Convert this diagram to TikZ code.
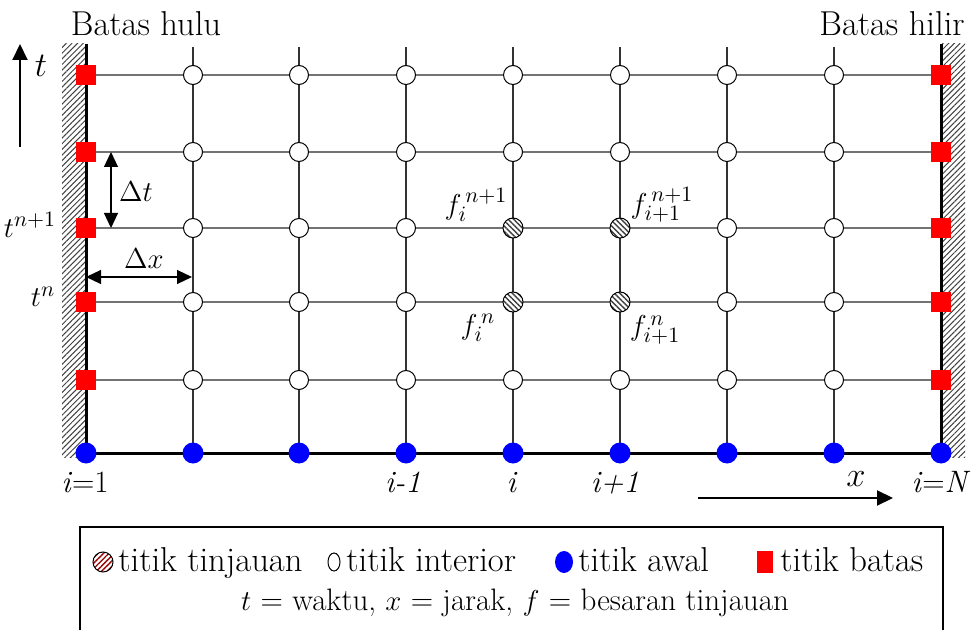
\documentclass[tikz,border=0pt]{standalone}
\usetikzlibrary{arrows.meta,patterns,patterns.meta,shapes.geometric}
\begin{document}
\begin{tikzpicture}[x=0.5pt,y=-0.5pt,
  txt/.style={font=\fontsize{15.5}{18}\selectfont, inner sep=0pt},
  bigtxt/.style={font=\fontsize{17.28}{20}\selectfont, inner sep=0pt},
  interior/.style={circle,draw,fill=white,minimum size=9.5pt,inner sep=0pt,line width=0.5pt},
  boundary/.style={rectangle,fill=red,minimum size=10pt,inner sep=0pt},
  initial/.style={circle,fill=blue,minimum size=10.5pt,inner sep=0pt},
  review/.style={circle,draw,line width=0.5pt,minimum size=10pt,inner sep=0pt,
    preaction={fill=white},pattern={Lines[angle=-45,distance=1.9pt,line width=0.7pt]},pattern color=black!75},
  gridh/.style={draw=black!55,line width=1pt},
  gridv/.style={draw=black!80,line width=0.7pt},
  wall/.style={line width=1.5pt},
  hatch/.style={pattern={Lines[angle=45,distance=2pt,line width=0.5pt]},pattern color=black!75},
  arr/.style={line width=1pt,-{Triangle[length=8pt,width=7.5pt]}},
  darr/.style={line width=0.6pt,{Triangle[length=7.5pt,width=7pt]}-{Triangle[length=7.5pt,width=7pt]}}
]
\useasboundingbox (0,0) rectangle (973,630);

% walls (hatching)
\fill[hatch] (62,44) rectangle (85,457);
\fill[hatch] (942,44) rectangle (965,457);

% grid coordinates
\foreach \x [count=\i] in {86,193,299,406,513,620,727,834,941} {
  \coordinate (top-\i) at (\x,47);
  \foreach \y [count=\jj] in {453,380,302,228,152,75} {
    \pgfmathtruncatemacro\j{\jj-1}
    \coordinate (g-\i-\j) at (\x,\y);
  }
}
\coordinate (wl) at (86,44);
\coordinate (wr) at (941,44);

% grid lines
\foreach \j in {1,...,5} { \draw[gridh] (g-1-\j) -- (g-9-\j); }
\foreach \i in {2,...,8} { \draw[gridv] (top-\i) -- (g-\i-0); }
\draw[wall] (wl) -- (g-1-0) -- (g-9-0) -- (wr);

% nodes
\foreach \i in {1,...,9} { \node[initial] (n-\i-0) at (g-\i-0) {}; }
\foreach \j in {1,...,5} {
  \node[boundary] (n-1-\j) at (g-1-\j) {};
  \node[boundary] (n-9-\j) at (g-9-\j) {};
}
\foreach \i in {2,...,8} {
  \foreach \j in {1,...,5} {
    \pgfmathtruncatemacro\isrev{((\i==5)||(\i==6))&&((\j==2)||(\j==3))}
    \ifnum\isrev=1
      \node[review] (n-\i-\j) at (g-\i-\j) {};
    \else
      \node[interior] (n-\i-\j) at (g-\i-\j) {};
    \fi
  }
}

% titles
\node[bigtxt,anchor=base] (hulu) at (146,36) {Batas hulu};
\node[bigtxt,anchor=base] (hilir) at (892,36) {Batas hilir};

% time axis
\coordinate (ta) at (20,147);
\coordinate (tb) at (20,44);
\draw[arr] (ta) -- (tb);
\node[bigtxt] (tlab) at (41,66) {$t$};
\node[txt] (tn1) at (30,225) {$t^{n+1}$};
\node[txt] (tn) at (43,297) {$t^{n}$};

% delta t
\coordinate (dta) at (111,152);
\coordinate (dtb) at (111,228);
\draw[darr] (dta) -- (dtb);
\node[txt] (dtlab) at (136,192) {$\Delta t$};

% delta x
\coordinate (dxa) at (86,277);
\coordinate (dxb) at (192,277);
\draw[darr] (dxa) -- (dxb);
\node[txt] (dxlab) at (144,259) {$\Delta x$};

% f labels
\node[txt] (f1) at (476,205) {$f_{i}^{\,n+1}$};
\node[txt] (f2) at (662,205) {$f_{i+1}^{\,n+1}$};
\node[txt] (f3) at (478,328) {$f_{i}^{\,n}$};
\node[txt] (f4) at (655,330) {$f_{i+1}^{\,n}$};

% bottom labels
\node[txt,anchor=base] (l1) at (85,492) {\textit{i}=1};
\node[txt,anchor=base] (l2) at (403,492) {\textit{i-1}};
\node[txt,anchor=base] (l3) at (512,492) {\textit{i}};
\node[txt,anchor=base] (l4) at (615,492) {\textit{i+1}};
\node[txt,anchor=base] (l5) at (941,492) {\textit{i}=\textit{N}};

% x axis
\coordinate (xa) at (698,498);
\coordinate (xb) at (893,498);
\draw[arr] (xa) -- (xb);
\node[bigtxt] (xlab) at (856,479) {$x$};

% legend box
\coordinate (bl) at (80,640);
\coordinate (tl) at (80,527);
\coordinate (tr) at (943,527);
\coordinate (br) at (943,640);
\draw[line width=1pt] (bl) -- (tl) -- (tr) -- (br);

\node[circle,draw,line width=0.5pt,minimum size=10pt,inner sep=0pt,
  preaction={fill=white},pattern={Lines[angle=45,distance=1.9pt,line width=0.7pt]},pattern color=red!60!black] (lg1) at (103,562) {};
\node[bigtxt,anchor=base west] (lt1) at (118,571) {titik tinjauan};
\node[ellipse,draw,line width=0.5pt,fill=white,minimum width=6pt,minimum height=9pt,inner sep=0pt] (lg2) at (334,562) {};
\node[bigtxt,anchor=base west] (lt2) at (346,571) {titik interior};
\node[ellipse,fill=blue,minimum width=9pt,minimum height=11pt,inner sep=0pt] (lg3) at (564,562) {};
\node[bigtxt,anchor=base west] (lt3) at (578,571) {titik awal};
\node[rectangle,fill=red,minimum width=8pt,minimum height=11pt,inner sep=0pt] (lg4) at (765,562) {};
\node[bigtxt,anchor=base west] (lt4) at (780,571) {titik batas};
\node[txt,anchor=base] (lt5) at (515,610) {$t$ = waktu, $x$ = jarak, $f$ = besaran tinjauan};
\end{tikzpicture}
\end{document}
